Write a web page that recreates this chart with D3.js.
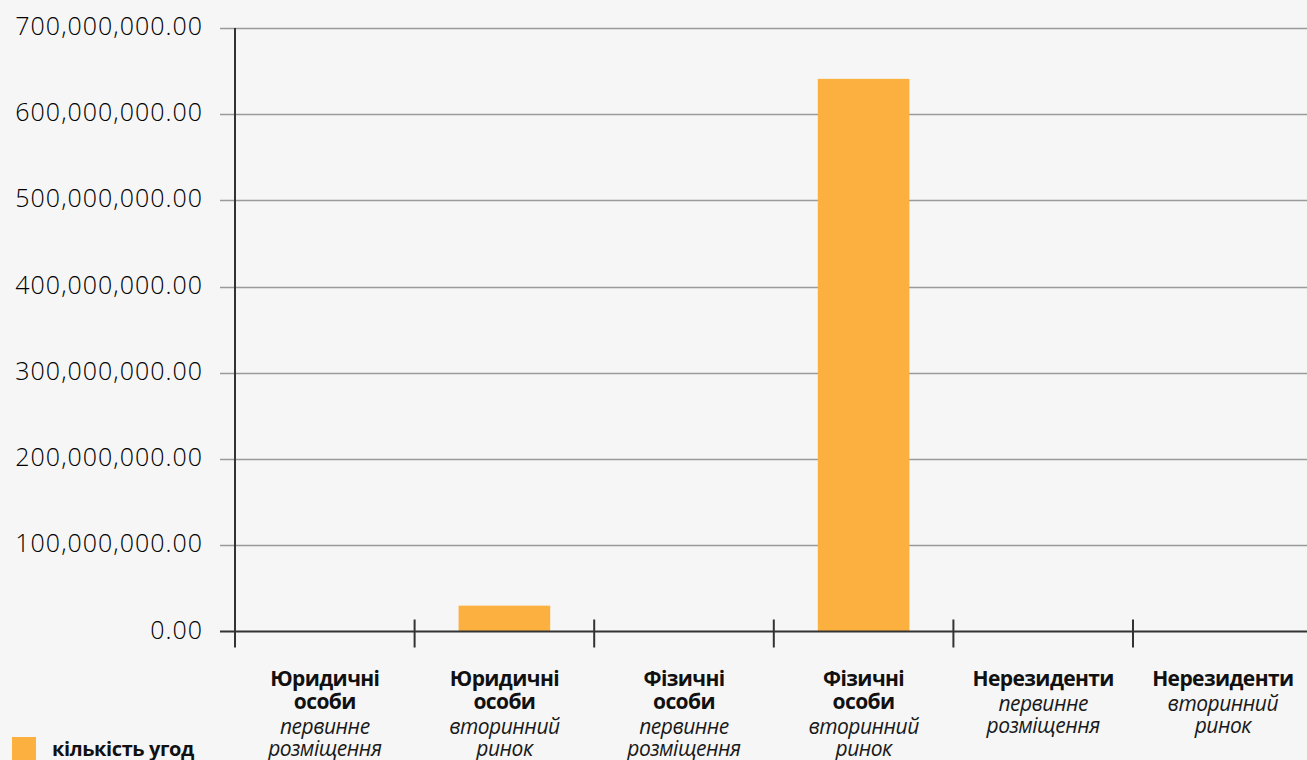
<!DOCTYPE html>
<html>
<head>
<meta charset="utf-8">
<script src="https://cdn.jsdelivr.net/npm/d3@7"></script>
<style>
  html, body { margin: 0; padding: 0; background: #f6f6f6; }
  svg { display: block; }
</style>
</head>
<body>
<div id="chart"></div>
<script>
// data
var categories = ["Юридичні особи", "Юридичні особи ", "Фізичні особи", "Фізичні особи ", "Нерезиденти", "Нерезиденти "];
var titleLines = [["Юридичні", "особи"], ["Юридичні", "особи"], ["Фізичні", "особи"], ["Фізичні", "особи"], ["Нерезиденти"], ["Нерезиденти"]];
var subLines = [["первинне", "розміщення"], ["вторинний", "ринок"], ["первинне", "розміщення"], ["вторинний", "ринок"], ["первинне", "розміщення"], ["вторинний", "ринок"]];
var values = [0, 30000000, 0, 641000000, 0, 0];
var yTicks = [0, 100000000, 200000000, 300000000, 400000000, 500000000, 600000000, 700000000];
var legendLabel = "кількість угод";

var width = 1307, height = 760;
var margin = {top: 28, left: 235, bottom: 128};

var svg = d3.select("#chart")
    .append("svg")
    .attr("width", width)
    .attr("height", height)
    .style("background", "#f6f6f6")

var xScale = d3.scaleBand()
    .domain(categories)
    .range([margin.left, margin.left + 6 * 179.6])
    .paddingInner(0.49)
    .paddingOuter(0.245)

var yScale = d3.scaleLinear()
    .domain([0, 700000000])
    .range([height - margin.bottom - 0.5, margin.top])

var fmt = d3.format(",.2f")

// gridlines + y labels
var grid = svg.append("g")
grid.selectAll("line")
    .data(yTicks.filter(d => d > 0))
    .enter()
    .append("line")
    .attr("x1", 220)
    .attr("x2", width)
    .attr("y1", d => Math.round(yScale(d)) + 0.5)
    .attr("y2", d => Math.round(yScale(d)) + 0.5)
    .attr("stroke", "#9a9a9a")
    .attr("stroke-width", 1.5)

svg.append("g").selectAll("text")
    .data(yTicks)
    .enter()
    .append("text")
    .attr("x", 203)
    .attr("y", d => yScale(d))
    .attr("dy", "0.28em")
    .attr("text-anchor", "end")
    .style("font-family", "'Open Sans', sans-serif")
    .style("font-weight", 300)
    .style("font-size", "25px")
    .style("letter-spacing", "1px")
    .style("fill", "#000")
    .text(d => fmt(d))

// bars
svg.append("g").selectAll("rect")
    .data(values)
    .enter()
    .append("rect")
    .attr("x", (d, i) => xScale(categories[i]))
    .attr("width", xScale.bandwidth())
    .attr("y", d => yScale(d))
    .attr("height", d => yScale(0) - yScale(d))
    .attr("fill", "#fbb03f")

// axes
var y0 = yScale(0)
svg.append("line")
    .attr("x1", 220).attr("x2", width)
    .attr("y1", y0).attr("y2", y0)
    .attr("stroke", "#333").attr("stroke-width", 2)

svg.append("line")
    .attr("x1", margin.left).attr("x2", margin.left)
    .attr("y1", margin.top).attr("y2", y0 + 16)
    .attr("stroke", "#333").attr("stroke-width", 2)

var step = xScale.step()
svg.append("g").selectAll("line")
    .data(categories.slice(1))
    .enter()
    .append("line")
    .attr("x1", (d, i) => margin.left + (i + 1) * step)
    .attr("x2", (d, i) => margin.left + (i + 1) * step)
    .attr("y1", y0 - 12)
    .attr("y2", y0 + 16)
    .attr("stroke", "#333")
    .attr("stroke-width", 2)

// category labels
var labels = svg.append("g").selectAll("g")
    .data(categories)
    .enter()
    .append("g")
    .attr("transform", d => "translate(" + (xScale(d) + xScale.bandwidth() / 2) + ",0)")

labels.each(function(d, i) {
    var g = d3.select(this)
    var y = 686
    titleLines[i].forEach(function(t) {
        g.append("text")
            .attr("y", y)
            .attr("text-anchor", "middle")
            .style("font-family", "'Open Sans', sans-serif")
            .style("font-weight", 700)
            .style("font-size", "21px")
            .style("letter-spacing", "-0.6px")
            .style("fill", "#111")
            .text(t)
        y += 23
    })
    y += 2
    subLines[i].forEach(function(t) {
        g.append("text")
            .attr("y", y)
            .attr("text-anchor", "middle")
            .style("font-family", "'Open Sans', sans-serif")
            .style("font-style", "italic")
            .style("font-weight", 400)
            .style("font-size", "21px")
            .style("letter-spacing", "-0.5px")
            .style("fill", "#1a1a1a")
            .text(t)
        y += 22
    })
})

// legend
svg.append("rect")
    .attr("x", 12).attr("y", 737)
    .attr("width", 24).attr("height", 24)
    .attr("fill", "#fbb03f")

svg.append("text")
    .attr("x", 52).attr("y", 756)
    .style("font-family", "'Open Sans', sans-serif")
    .style("font-weight", 700)
    .style("font-size", "20px")
    .style("letter-spacing", "-0.4px")
    .style("fill", "#111")
    .text(legendLabel)
</script>
</body>
</html>
